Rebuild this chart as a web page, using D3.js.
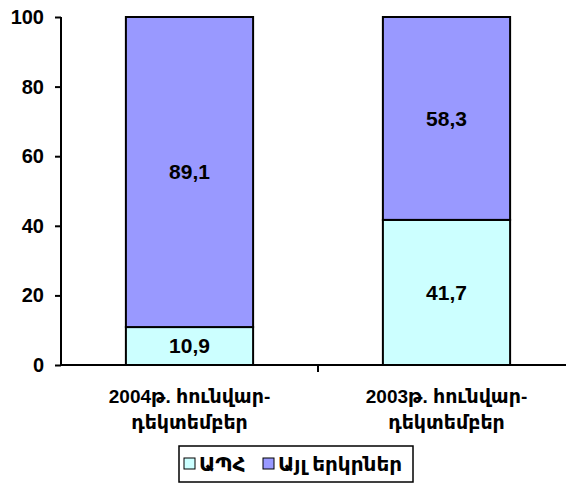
<!DOCTYPE html>
<html>
<head>
<meta charset="utf-8">
<script src="https://cdn.jsdelivr.net/npm/d3@7"></script>
<style>
  body { margin: 0; background: #fff; }
  text { font-family: "Liberation Sans", Arial, "DejaVu Sans", sans-serif; font-weight: bold; fill: #000; }
</style>
</head>
<body>
<svg id="chart"></svg>
<script>
// data
var categories = [["2004թ. հունվար-", "դեկտեմբեր"], ["2003թ. հունվար-", "դեկտեմբեր"]];
var seriesNames = ["ԱՊՀ", "Այլ երկրներ"];
var cisValues = [10.9, 41.7];
var otherValues = [89.1, 58.3];
var yTicks = [0, 20, 40, 60, 80, 100];
var colors = ["#ccffff", "#9999ff"];

var W = 566, H = 485;
var margin = {top: 17, right: -9, bottom: 120, left: 61};
var width = W - margin.left - margin.right;
var height = H - margin.top - margin.bottom;

var svg = d3.select('#chart').attr('width', W).attr('height', H);
var g = svg.append('g').attr('transform', 'translate(' + margin.left + ',' + margin.top + ')');

var table = categories.map(function(c, i) {
  return {key: i, cis: cisValues[i], other: otherValues[i]};
});
var stacked = d3.stack().keys(['cis', 'other'])(table);

var xScale = d3.scaleBand()
  .domain(table.map(d => d.key))
  .range([0, width])
  .paddingInner(0)
  .paddingOuter(0);
var barW = xScale.bandwidth() * 0.495;

var yScale = d3.scaleLinear().domain([0, 100]).range([height, 0]);

// bars
stacked.forEach(function(layer, li) {
  g.selectAll('.bar' + li)
    .data(layer)
    .enter()
    .append('rect')
      .attr('x', (d, i) => xScale(i) + (xScale.bandwidth() - barW) / 2)
      .attr('y', d => yScale(d[1]))
      .attr('width', barW)
      .attr('height', d => yScale(d[0]) - yScale(d[1]))
      .style('fill', colors[li])
      .style('stroke', '#000')
      .style('stroke-width', 2);

  g.selectAll('.lab' + li)
    .data(layer)
    .enter()
    .append('text')
      .attr('x', (d, i) => xScale(i) + xScale.bandwidth() / 2)
      .attr('y', d => (yScale(d[0]) + yScale(d[1])) / 2)
      .attr('dy', '0.35em')
      .attr('text-anchor', 'middle')
      .style('font-size', '21px')
      .text(d => d3.format('.1f')(d[1] - d[0]).replace('.', ','));
});

// y axis
var yAxis = d3.axisLeft(yScale).tickValues(yTicks).tickSize(6).tickPadding(11).tickFormat(d3.format('d'));
var yg = g.append('g').call(yAxis);
yg.select('.domain').attr('stroke', '#000').attr('stroke-width', 2).attr('d', 'M0,0V' + height);
yg.selectAll('.tick line').attr('stroke', '#000').attr('stroke-width', 2);
yg.selectAll('.tick text').style('font-size', '20px').style('font-family', '"Liberation Sans", Arial, sans-serif');

// x axis
var xg = g.append('g').attr('transform', 'translate(0,' + height + ')');
xg.append('line').attr('x1', 0).attr('x2', width).attr('stroke', '#000').attr('stroke-width', 2);
xg.selectAll('.xtick')
  .data(table.slice(1))
  .enter()
  .append('line')
    .attr('x1', d => xScale(d.key)).attr('x2', d => xScale(d.key))
    .attr('y1', 0).attr('y2', 7)
    .attr('stroke', '#000').attr('stroke-width', 2);

xg.selectAll('.xlab')
  .data(categories)
  .enter()
  .append('text')
    .attr('x', (d, i) => xScale(i) + xScale.bandwidth() / 2)
    .attr('y', 38)
    .attr('text-anchor', 'middle')
    .style('font-size', '19px')
    .each(function(d) {
      var t = d3.select(this);
      d.forEach(function(line, k) {
        t.append('tspan').attr('x', t.attr('x')).attr('dy', k === 0 ? 0 : 26).text(line);
      });
    });

// legend
var leg = svg.append('g').attr('transform', 'translate(179,446)');
leg.append('rect').attr('width', 234).attr('height', 36).style('fill', '#fff').style('stroke', '#000').style('stroke-width', 1.5);
var legX = [5, 84];
seriesNames.forEach(function(name, i) {
  leg.append('rect')
    .attr('x', legX[i]).attr('y', 12).attr('width', 11).attr('height', 11)
    .style('fill', colors[i]).style('stroke', '#000').style('stroke-width', 1);
  leg.append('text')
    .attr('x', legX[i] + 15).attr('y', 18).attr('dy', '0.35em')
    .style('font-size', '20px')
    .text(name);
});
</script>
</body>
</html>
